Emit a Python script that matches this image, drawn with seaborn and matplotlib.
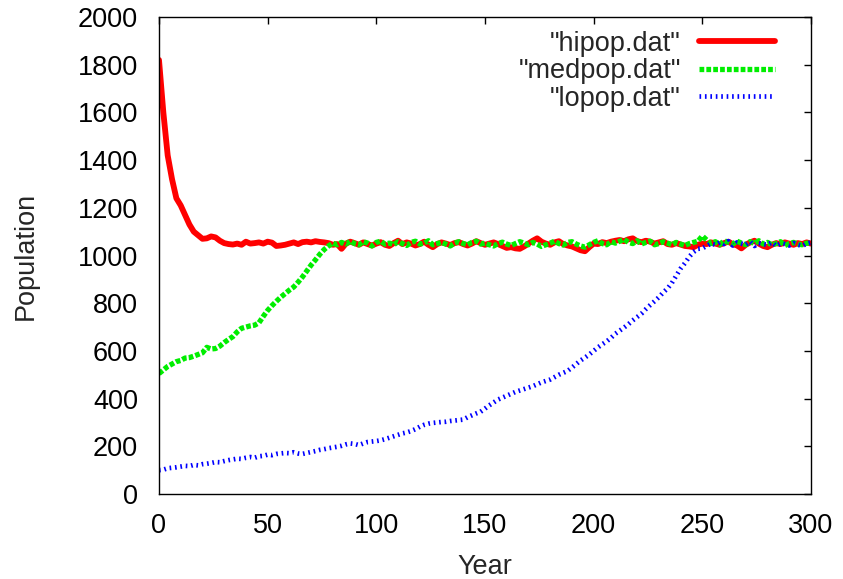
import seaborn as sns
import matplotlib.pyplot as plt
import pandas as pd

years = list(range(0, 301, 2))

hipop = [1820, 1600, 1420, 1320, 1240, 1210, 1170, 1130, 1100, 1085,
         1070, 1072, 1080, 1076, 1062, 1052, 1048, 1046, 1050, 1045,
         1058, 1050, 1052, 1055, 1050, 1058, 1054, 1040, 1042, 1045,
         1050, 1055, 1048, 1056, 1058, 1055, 1060, 1057, 1055, 1052,
         1045, 1048, 1028, 1050, 1058, 1052, 1045, 1055, 1048, 1042,
         1050, 1056, 1045, 1040, 1052, 1062, 1048, 1055, 1050, 1042,
         1048, 1058, 1045, 1035, 1048, 1055, 1050, 1044, 1052, 1056,
         1048, 1042, 1050, 1060, 1052, 1045, 1050, 1055, 1048, 1040,
         1032, 1035, 1030, 1028, 1038, 1050, 1062, 1072, 1058, 1050,
         1045, 1055, 1060, 1048, 1042, 1038, 1030, 1022, 1018, 1035,
         1050, 1048, 1056, 1052, 1058, 1062, 1065, 1060, 1068, 1072,
         1060, 1056, 1062, 1058, 1050, 1055, 1060, 1048, 1045, 1052,
         1046, 1040, 1038, 1035, 1045, 1050, 1048, 1055, 1050, 1045,
         1052, 1058, 1048, 1042, 1030, 1045, 1055, 1062, 1050, 1040,
         1035, 1045, 1052, 1048, 1055, 1050, 1045, 1052, 1048, 1055,
         1050]

medpop = [505, 520, 535, 545, 555, 560, 570, 572, 578, 585,
          592, 615, 608, 610, 620, 635, 648, 660, 680, 695,
          700, 705, 708, 718, 745, 770, 790, 808, 825, 840,
          855, 868, 888, 910, 935, 960, 982, 1005, 1025, 1040,
          1052, 1045, 1055, 1048, 1060, 1050, 1045, 1058, 1052, 1040,
          1055, 1060, 1048, 1052, 1045, 1058, 1050, 1042, 1055, 1060,
          1048, 1052, 1062, 1045, 1050, 1055, 1048, 1040, 1052, 1058,
          1050, 1045, 1055, 1060, 1048, 1052, 1045, 1040, 1050, 1056,
          1048, 1042, 1050, 1058, 1052, 1045, 1055, 1048, 1038, 1045,
          1052, 1060, 1050, 1044, 1055, 1058, 1048, 1040, 1035, 1045,
          1055, 1062, 1050, 1045, 1058, 1052, 1060, 1068, 1055, 1050,
          1062, 1048, 1055, 1060, 1045, 1050, 1058, 1052, 1045, 1055,
          1048, 1042, 1050, 1055, 1060, 1082, 1065, 1050, 1058, 1045,
          1062, 1055, 1048, 1060, 1052, 1045, 1058, 1050, 1062, 1048,
          1055, 1045, 1050, 1058, 1042, 1050, 1055, 1048, 1045, 1052,
          1050]

lopop = [100, 102, 108, 110, 112, 115, 118, 117, 122, 120,
         125, 127, 130, 134, 133, 138, 142, 145, 148, 147,
         152, 155, 152, 158, 160, 165, 163, 168, 170, 172,
         171, 175, 170, 168, 172, 176, 180, 185, 188, 192,
         195, 198, 202, 208, 212, 210, 205, 212, 218, 220,
         222, 225, 230, 236, 242, 248, 254, 258, 264, 272,
         282, 290, 295, 298, 300, 302, 303, 306, 308, 310,
         312, 322, 330, 338, 345, 358, 372, 384, 396, 404,
         412, 420, 428, 434, 440, 446, 452, 460, 468, 474,
         480, 490, 500, 508, 516, 530, 545, 560, 572, 585,
         600, 615, 628, 640, 655, 672, 685, 698, 712, 728,
         742, 756, 775, 792, 808, 825, 845, 862, 885, 915,
         945, 968, 995, 1015, 1028, 1030, 1040, 1050, 1045, 1055,
         1048, 1060, 1042, 1055, 1050, 1045, 1058, 1040, 1052, 1048,
         1045, 1055, 1040, 1050, 1048, 1042, 1052, 1045, 1040, 1050,
         1055]

data_hi = pd.DataFrame({'x': years, 'y': hipop})
data_med = pd.DataFrame({'x': years, 'y': medpop})
data_lo = pd.DataFrame({'x': years, 'y': lopop})

sns.set_style('white')
plt.rcParams['font.family'] = ['Liberation Sans', 'DejaVu Sans']

fig = plt.figure(figsize=(8.43, 5.79), dpi=100)
ax = fig.add_axes([0.1886, 0.1468, 0.7734, 0.8238])

sns.lineplot(x='x', y='y', data=data_hi, ax=ax, color='#ff0000', linewidth=4.2,
             label='"hipop.dat"')
sns.lineplot(x='x', y='y', data=data_med, ax=ax, color='#00ee00', linewidth=3.8,
             linestyle=(0, (0.9, 0.4)), label='"medpop.dat"')
sns.lineplot(x='x', y='y', data=data_lo, ax=ax, color='#0000ff', linewidth=3.4,
             linestyle=(0, (0.35, 0.8)), label='"lopop.dat"')

ax.set_xlim(0, 300)
ax.set_ylim(0, 2000)
ax.set_xticks(range(0, 301, 50))
ax.set_yticks(range(0, 2001, 200))
ax.set_xlabel('Year', fontsize=19.5)
ax.set_ylabel('Population', fontsize=19.5)
ax.xaxis.set_label_coords(0.5, -0.126)
ax.yaxis.set_label_coords(-0.185, 0.5)
ax.tick_params(direction='in', length=5, width=1, labelsize=19.5,
               top=True, right=True, colors='black')
ax.tick_params(axis='x', pad=13.5)
ax.tick_params(axis='y', pad=15)
for s in ax.spines.values():
    s.set_visible(True)
    s.set_color('black')
    s.set_linewidth(1)

leg = ax.legend(loc='upper right', bbox_to_anchor=(0.966, 1.0), frameon=False,
                markerfirst=False, fontsize=19.5, handlelength=2.8,
                handletextpad=0.69, labelspacing=0.06, borderpad=0)

plt.savefig('out.png', dpi=100)
